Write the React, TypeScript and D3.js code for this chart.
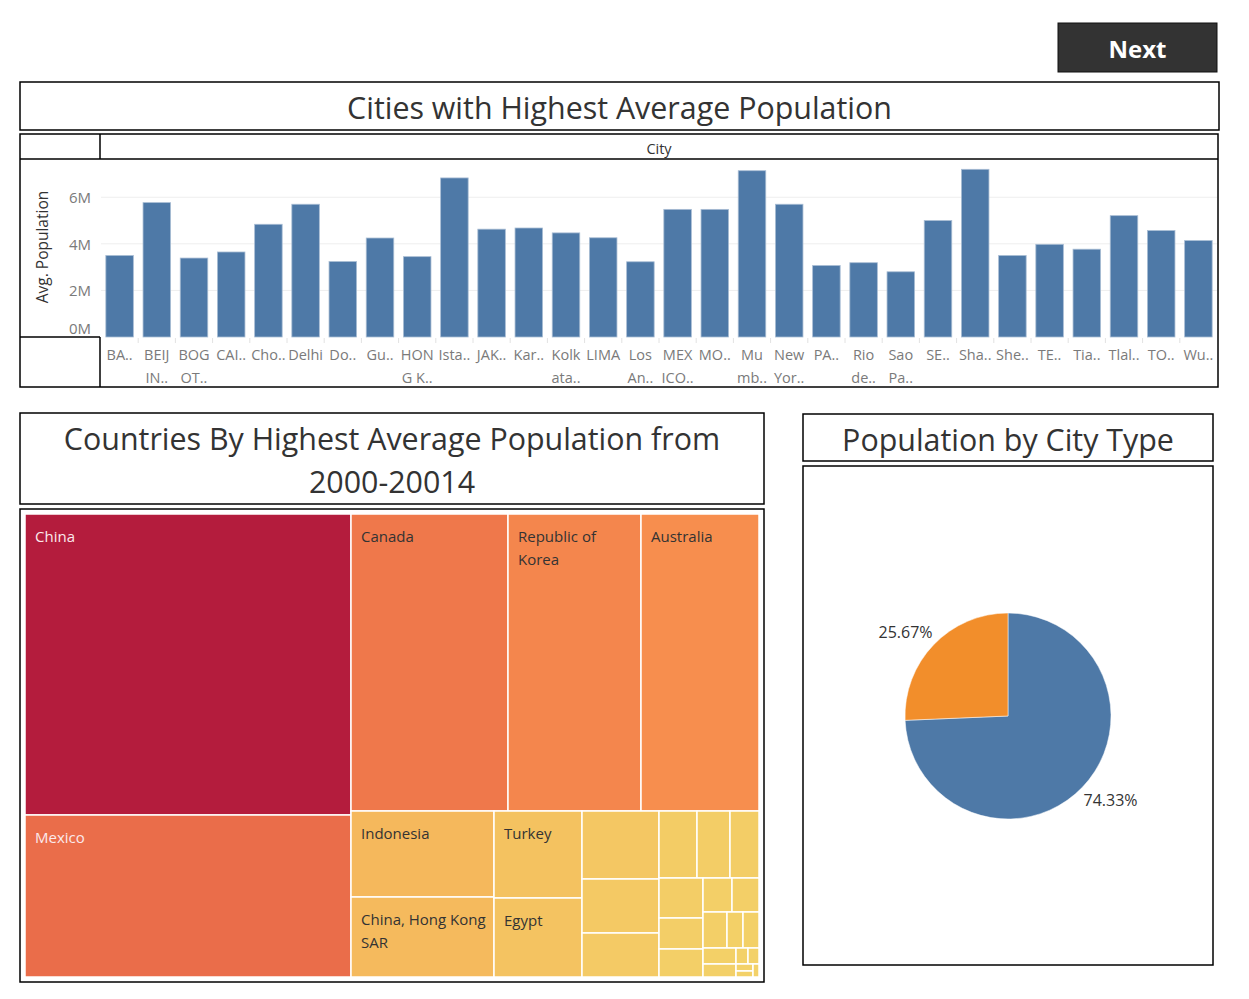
import React from "react"
import * as d3 from "d3"

// bar chart data (avg population per city)
const cityLabels: string[][] = [
  ["BA.."], ["BEIJ", "IN.."], ["BOG", "OT.."], ["CAI.."], ["Cho.."], ["Delhi"], ["Do.."], ["Gu.."],
  ["HON", "G K.."], ["Ista.."], ["JAK.."], ["Kar.."], ["Kolk", "ata.."], ["LIMA"], ["Los", "An.."],
  ["MEX", "ICO.."], ["MO.."], ["Mu", "mb.."], ["New", "Yor.."], ["PA.."], ["Rio", "de.."], ["Sao", "Pa.."],
  ["SE.."], ["Sha.."], ["She.."], ["TE.."], ["Tia.."], ["Tlal.."], ["TO.."], ["Wu.."],
]
const cityPopulation = [
  3.5, 5.77, 3.39, 3.65, 4.84, 5.7, 3.24, 4.25, 3.45, 6.83, 4.63, 4.68, 4.47, 4.26, 3.23,
  5.48, 5.48, 7.14, 5.7, 3.07, 3.19, 2.8, 5.0, 7.2, 3.5, 3.98, 3.77, 5.21, 4.57, 4.14,
].map(v => v * 1e6)
const yTicks = [0, 2e6, 4e6, 6e6]

// treemap data (avg population per country, relative units)
const countryLabels: string[][] = [
  ["China"], ["Mexico"], ["Canada"], ["Republic of", "Korea"], ["Australia"], ["Indonesia"],
  ["China, Hong Kong", "SAR"], ["Turkey"], ["Egypt"],
  [], [], [], [], [], [], [], [], [], [], [], [], [], [], [], [], [], [], [], [], [],
]
const countryValues = [
  98126, 52812, 46629, 39501, 35046, 12298, 11440, 7656, 6952,
  5236, 4158, 3388, 2546, 2211, 1943, 1760, 1364, 1232, 986, 918, 864, 576, 576, 528, 429, 192, 176, 119, 102, 78,
]

// pie data
const cityTypes = ["Type A", "Type B"]
const cityTypeShare = [74.33, 25.67]
const pieColors = ["#4e79a7", "#f28e2b"]

const FONT = "'Open Sans', 'Noto Sans', sans-serif"

function Box({ x, y, w, h }: { x: number; y: number; w: number; h: number }) {
  return <rect x={x} y={y} width={w} height={h} fill="none" stroke="#000" strokeWidth={1.5} />
}

export default function App() {
  // ---- bar chart ----
  const plotL = 101, plotR = 1217, plotTop = 160, plotBottom = 337
  const xBand = d3.scaleBand<number>()
    .domain(d3.range(cityPopulation.length))
    .range([plotL, plotR])
    .paddingInner(0.26)
    .paddingOuter(0.13)
  const yScale = d3.scaleLinear().domain([0, 7.6e6]).range([plotBottom, plotTop])
  const fmtM = (v: number) => `${v / 1e6}M`
  const step = xBand.step()

  // ---- treemap ----
  const tmX0 = 25, tmY0 = 514, tmX1 = 759, tmY1 = 977
  const root = d3.hierarchy<any>({ children: countryValues.map((v, i) => ({ i, value: v })) })
    .sum((d: any) => d.value || 0)
  d3.treemap<any>().tile(d3.treemapSquarify).size([tmX1 - tmX0, tmY1 - tmY0])(root)
  const color = d3.scaleLinear<string>()
    .domain([0, 12000, 35000, 52000, 98000])
    .range(["#f3d168", "#f5b95c", "#f78e4e", "#eb6e4a", "#b41c3d"])
    .interpolate(d3.interpolateRgb)

  // ---- pie ----
  const pcx = 1008, pcy = 716, pr = 103
  const pie = d3.pie<number>().sort(null).value(d => d)
  const arcs = pie(cityTypeShare)
  const arc = d3.arc<d3.PieArcDatum<number>>().innerRadius(0).outerRadius(pr)
  const labelRx = 142, labelRy = 122

  return (
    <svg width={1249} height={999} style={{ position: "absolute", left: 0, top: 0, background: "#fff" }}
      fontFamily={FONT}>
      {/* Next button */}
      <rect x={1058} y={23} width={159} height={49} fill="#333" stroke="#111" strokeWidth={1} />
      <text x={1137.5} y={48.5} textAnchor="middle" dominantBaseline="central" fill="#fff"
        fontSize={24} fontWeight="bold">Next</text>

      {/* Bar chart title */}
      <Box x={20} y={82} w={1199} h={48} />
      <text x={619.5} y={107} textAnchor="middle" dominantBaseline="central" fill="#333" fontSize={30.4}>
        Cities with Highest Average Population
      </text>

      {/* Bar chart frame */}
      <Box x={20} y={134} w={1198} h={253} />
      <line x1={20} x2={1218} y1={159} y2={159} stroke="#000" strokeWidth={1.5} />
      <line x1={100} x2={100} y1={134} y2={159} stroke="#000" strokeWidth={1.5} />
      <line x1={100} x2={100} y1={337} y2={387} stroke="#000" strokeWidth={1.5} />
      <line x1={20} x2={100} y1={337} y2={337} stroke="#000" strokeWidth={1.5} />
      <text x={659} y={148.5} textAnchor="middle" dominantBaseline="central" fill="#333" fontSize={14.5}>City</text>

      {/* gridlines */}
      {yTicks.filter(t => t > 0).map(t => (
        <line key={t} x1={plotL} x2={plotR} y1={yScale(t)} y2={yScale(t)} stroke="#eeeeee" strokeWidth={1} />
      ))}
      {yTicks.map(t => (
        <text key={t} x={91} y={yScale(t) - (t === 0 ? 9 : 0)} textAnchor="end" dominantBaseline="central"
          fill="#7a7a7a" fontSize={15}>{fmtM(t)}</text>
      ))}
      <text transform={`translate(42,247) rotate(-90)`} textAnchor="middle" dominantBaseline="central"
        fill="#333" fontSize={15.5}>Avg. Population</text>

      {cityPopulation.map((v, i) => (
        <rect key={i} x={xBand(i)} y={yScale(v)} width={xBand.bandwidth()} height={plotBottom - yScale(v)}
          fill="#4e79a7" stroke="#a9bdd4" strokeWidth={0.8} />
      ))}
      {cityPopulation.map((_, i) => i > 0 ? (
        <line key={i} x1={xBand(i)! - step * 0.13} x2={xBand(i)! - step * 0.13} y1={338} y2={343}
          stroke="#e2e2e2" strokeWidth={1} />
      ) : null)}
      {cityLabels.map((lines, i) => (
        <text key={i} x={xBand(i)! + xBand.bandwidth() / 2} textAnchor="middle" fill="#7a7a7a" fontSize={14.5}>
          {lines.map((l, k) => (
            <tspan key={k} x={xBand(i)! + xBand.bandwidth() / 2} y={360 + k * 23}>{l}</tspan>
          ))}
        </text>
      ))}

      {/* Treemap title */}
      <Box x={20} y={413} w={744} h={91} />
      <text textAnchor="middle" fill="#333" fontSize={30.4}>
        <tspan x={392} y={450}>Countries By Highest Average Population from</tspan>
        <tspan x={392} y={493}>2000-20014</tspan>
      </text>

      {/* Treemap */}
      <Box x={20} y={509} w={744} h={473} />
      <g transform={`translate(${tmX0},${tmY0})`}>
        {root.leaves().map((d: any) => {
          const i = d.data.i
          const lines = countryLabels[i]
          const light = i < 2
          return (
            <g key={i}>
              <rect x={d.x0} y={d.y0} width={d.x1 - d.x0} height={d.y1 - d.y0}
                fill={color(countryValues[i])} stroke="#fff" strokeWidth={1.5} />
              {lines.length > 0 && (
                <text fill={light ? "#fbe9ec" : "#333"} fontSize={15}>
                  {lines.map((l, k) => (
                    <tspan key={k} x={d.x0 + 10} y={d.y0 + 28 + k * 22.5}>{l}</tspan>
                  ))}
                </text>
              )}
            </g>
          )
        })}
      </g>

      {/* Pie title */}
      <Box x={803} y={414} w={410} h={47} />
      <text x={1008} y={439} textAnchor="middle" dominantBaseline="central" fill="#333" fontSize={30.4}>
        Population by City Type
      </text>

      {/* Pie */}
      <Box x={803} y={466} w={410} h={499} />
      <g transform={`translate(${pcx},${pcy})`}>
        {arcs.map((a, i) => (
          <path key={cityTypes[i]} d={arc(a) || ""} fill={pieColors[i]} stroke="#fff" strokeWidth={0.5} />
        ))}
        {arcs.map((a, i) => {
          const m = (a.startAngle + a.endAngle) / 2
          return (
            <text key={i} x={Math.sin(m) * labelRx} y={-Math.cos(m) * labelRy} textAnchor="middle"
              dominantBaseline="central" fill="#333" fontSize={16}>{`${cityTypeShare[i].toFixed(2)}%`}</text>
          )
        })}
      </g>
    </svg>
  )
}
